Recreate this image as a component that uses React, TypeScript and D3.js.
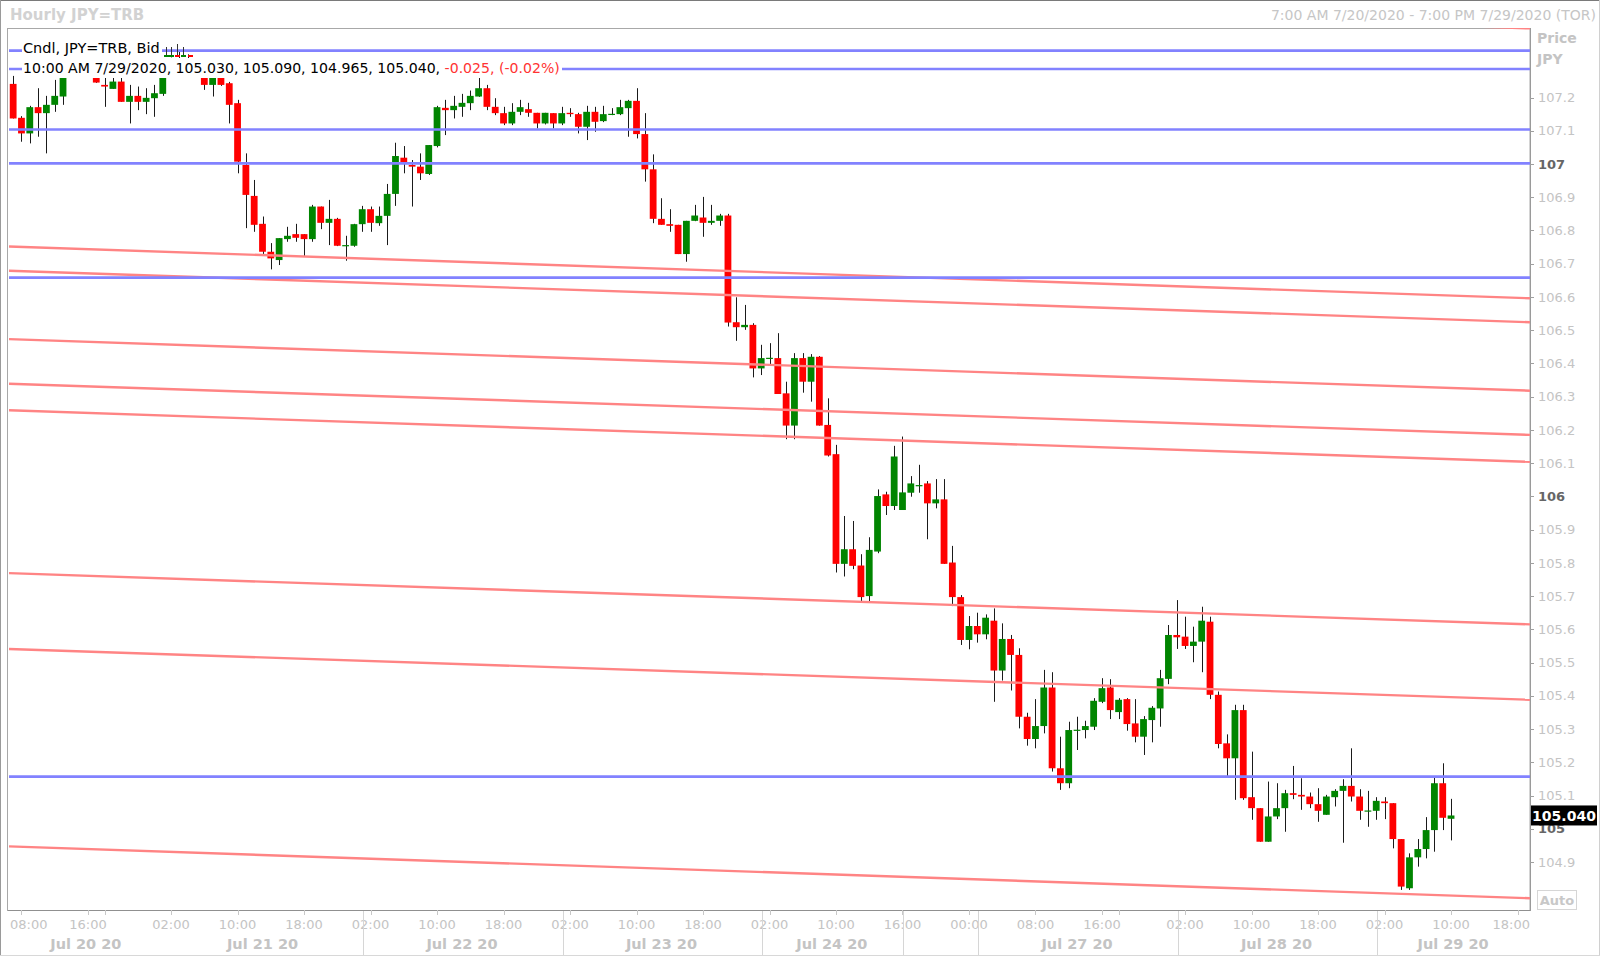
import React from "react";
import * as d3 from "d3";

// ---------- data (hourly candles, index 0 = 7:00 AM 7/20/2020, weekend gap removed) ----------
const OPEN = [
  107.241, 107.139, 107.092, 107.171, 107.153, 107.178, 107.203, 107.27, 107.3, 107.29,
  107.29, 107.238, 107.226, 107.248, 107.187, 107.205, 107.187, 107.198, 107.211, 107.27,
  107.3, 107.31, 107.29, 107.28, 107.238, 107.27, 107.243, 107.183, 106.997, 106.904,
  106.82, 106.736, 106.711, 106.774, 106.789, 106.789, 106.774, 106.872, 106.823, 106.835,
  106.755, 106.754, 106.819, 106.864, 106.822, 106.844, 106.91, 107.019, 106.997, 106.992,
  106.97, 107.054, 107.169, 107.162, 107.172, 107.183, 107.203, 107.228, 107.172, 107.153,
  107.122, 107.157, 107.165, 107.154, 107.122, 107.153, 107.122, 107.154, 107.15, 107.112,
  107.157, 107.129, 107.15, 107.15, 107.168, 107.19, 107.09, 106.984, 106.835, 106.819,
  106.817, 106.729, 106.829, 106.839, 106.823, 106.829, 106.845, 106.524, 106.509, 106.516,
  106.385, 106.416, 106.416, 106.31, 106.213, 106.416, 106.345, 106.42, 106.215, 106.127,
  105.797, 105.841, 105.792, 105.7, 105.834, 106.006, 105.971, 105.959, 106.011, 106.033,
  106.039, 105.979, 105.991, 105.801, 105.697, 105.568, 105.61, 105.585, 105.626, 105.476,
  105.571, 105.523, 105.337, 105.27, 105.309, 105.425, 105.182, 105.137, 105.297, 105.297,
  105.307, 105.382, 105.425, 105.351, 105.39, 105.317, 105.277, 105.327, 105.362, 105.451,
  105.583, 105.578, 105.55, 105.563, 105.623, 105.403, 105.257, 105.212, 105.357, 105.095,
  105.062, 104.961, 105.037, 105.062, 105.107, 105.102, 105.097, 105.074, 105.042, 105.095,
  105.114, 105.129, 105.097, 105.054, 105.054, 105.082, 105.077, 104.969, 104.821, 104.914,
  104.939, 104.996, 105.137, 105.03,
];
const HIGH = [
  107.265, 107.144, 107.175, 107.228, 107.205, 107.253, 107.289, 107.31, 107.33, 107.32,
  107.3, 107.265, 107.262, 107.259, 107.238, 107.233, 107.228, 107.238, 107.29, 107.32,
  107.34, 107.33, 107.31, 107.3, 107.29, 107.28, 107.247, 107.193, 107.032, 106.952,
  106.842, 106.762, 106.777, 106.811, 106.82, 106.789, 106.877, 106.872, 106.892, 106.838,
  106.784, 106.82, 106.874, 106.872, 106.872, 106.94, 107.064, 107.054, 107.012, 107.032,
  107.057, 107.175, 107.193, 107.205, 107.211, 107.221, 107.262, 107.238, 107.198, 107.172,
  107.183, 107.193, 107.184, 107.154, 107.154, 107.153, 107.172, 107.168, 107.154, 107.175,
  107.172, 107.175, 107.168, 107.193, 107.193, 107.228, 107.153, 107.029, 106.897, 106.864,
  106.817, 106.829, 106.877, 106.901, 106.877, 106.85, 106.85, 106.599, 106.576, 106.521,
  106.456, 106.461, 106.491, 106.345, 106.431, 106.431, 106.428, 106.422, 106.295, 106.155,
  105.941, 105.926, 105.826, 105.877, 106.021, 106.014, 106.152, 106.18, 106.061, 106.095,
  106.046, 106.052, 106.052, 105.851, 105.703, 105.64, 105.65, 105.645, 105.663, 105.618,
  105.583, 105.543, 105.349, 105.39, 105.478, 105.471, 105.277, 105.322, 105.337, 105.325,
  105.393, 105.453, 105.45, 105.393, 105.393, 105.39, 105.339, 105.369, 105.478, 105.613,
  105.688, 105.638, 105.608, 105.668, 105.638, 105.413, 105.284, 105.373, 105.373, 105.232,
  105.062, 105.142, 105.137, 105.117, 105.189, 105.152, 105.109, 105.122, 105.102, 105.119,
  105.149, 105.242, 105.119, 105.114, 105.095, 105.095, 105.077, 104.969, 104.926, 104.969,
  105.035, 105.154, 105.197, 105.09,
];
const LOW = [
  107.137, 107.067, 107.062, 107.082, 107.032, 107.157, 107.178, 107.26, 107.28, 107.27,
  107.244, 107.172, 107.226, 107.187, 107.122, 107.162, 107.15, 107.142, 107.205, 107.26,
  107.28, 107.27, 107.26, 107.223, 107.203, 107.235, 107.122, 106.972, 106.807, 106.796,
  106.726, 106.683, 106.696, 106.766, 106.766, 106.723, 106.766, 106.804, 106.756, 106.753,
  106.709, 106.751, 106.796, 106.796, 106.814, 106.756, 106.874, 106.972, 106.872, 106.952,
  106.967, 107.05, 107.087, 107.137, 107.142, 107.162, 107.202, 107.162, 107.147, 107.117,
  107.117, 107.147, 107.142, 107.107, 107.119, 107.107, 107.117, 107.142, 107.092, 107.072,
  107.097, 107.126, 107.147, 107.147, 107.082, 107.077, 106.947, 106.822, 106.817, 106.796,
  106.729, 106.706, 106.828, 106.781, 106.817, 106.814, 106.511, 106.468, 106.501, 106.358,
  106.365, 106.395, 106.308, 106.172, 106.172, 106.312, 106.285, 106.213, 106.12, 105.771,
  105.759, 105.781, 105.683, 105.683, 105.829, 105.944, 105.959, 105.959, 105.999, 106.011,
  105.871, 105.964, 105.797, 105.67, 105.553, 105.54, 105.56, 105.57, 105.382, 105.446,
  105.416, 105.302, 105.25, 105.242, 105.287, 105.172, 105.117, 105.122, 105.237, 105.272,
  105.297, 105.378, 105.33, 105.33, 105.295, 105.26, 105.222, 105.26, 105.307, 105.435,
  105.541, 105.541, 105.501, 105.471, 105.39, 105.242, 105.159, 105.087, 105.087, 105.027,
  104.961, 104.961, 105.029, 104.991, 105.089, 105.057, 105.062, 105.021, 105.042, 105.067,
  104.958, 105.082, 105.027, 105.006, 105.027, 105.029, 104.941, 104.816, 104.816, 104.886,
  104.911, 104.931, 104.996, 104.965,
];
const CLOSE = [
  107.137, 107.092, 107.171, 107.153, 107.178, 107.205, 107.271, 107.3, 107.29, 107.3,
  107.245, 107.233, 107.248, 107.187, 107.205, 107.187, 107.199, 107.213, 107.27, 107.3,
  107.31, 107.29, 107.28, 107.238, 107.27, 107.238, 107.178, 107.007, 106.907, 106.817,
  106.736, 106.716, 106.777, 106.784, 106.778, 106.774, 106.872, 106.823, 106.835, 106.754,
  106.756, 106.819, 106.864, 106.823, 106.844, 106.91, 107.024, 107.004, 106.992, 106.972,
  107.057, 107.171, 107.162, 107.175, 107.184, 107.205, 107.228, 107.172, 107.153, 107.122,
  107.157, 107.171, 107.154, 107.122, 107.154, 107.122, 107.153, 107.15, 107.112, 107.157,
  107.127, 107.15, 107.151, 107.171, 107.19, 107.09, 106.984, 106.835, 106.817, 106.814,
  106.729, 106.829, 106.845, 106.823, 106.829, 106.845, 106.523, 106.509, 106.516, 106.385,
  106.416, 106.417, 106.308, 106.213, 106.416, 106.345, 106.42, 106.213, 106.123, 105.797,
  105.841, 105.791, 105.697, 105.839, 106.001, 105.971, 106.12, 106.012, 106.039, 106.034,
  105.979, 105.991, 105.797, 105.697, 105.568, 105.61, 105.585, 105.635, 105.476, 105.571,
  105.523, 105.337, 105.27, 105.309, 105.425, 105.182, 105.137, 105.297, 105.298, 105.309,
  105.385, 105.423, 105.357, 105.388, 105.315, 105.277, 105.33, 105.364, 105.453, 105.583,
  105.576, 105.55, 105.563, 105.626, 105.403, 105.255, 105.212, 105.357, 105.092, 105.062,
  104.961, 105.037, 105.062, 105.107, 105.102, 105.097, 105.074, 105.054, 105.097, 105.114,
  105.129, 105.097, 105.054, 105.055, 105.084, 105.077, 104.969, 104.826, 104.914, 104.939,
  104.996, 105.137, 105.033, 105.04,
];

// x-axis ticks (candle index) and labels
const TICK_IDX = [1, 9, 19, 27, 35, 43, 51, 59, 67, 75, 83, 91, 99, 107, 115, 123, 131, 141, 149, 157, 165, 173, 181];
const TICK_LABELS = ["08:00", "16:00", "02:00", "10:00", "18:00", "02:00", "10:00", "18:00", "02:00", "10:00", "18:00", "02:00", "10:00", "16:00", "00:00", "08:00", "16:00", "02:00", "10:00", "18:00", "02:00", "10:00", "18:00"];
const MINOR_TICK_IDX = [11, 133];
const DAY_BOUNDS = [-0.5, 18, 42, 66, 90, 107, 116, 140, 164, 182.5];
const DAY_LABELS = ["Jul 20 20", "Jul 21 20", "Jul 22 20", "Jul 23 20", "Jul 24 20", "", "Jul 27 20", "Jul 28 20", "Jul 29 20"];
const SEPARATOR_IDX = [42, 66, 90, 107, 116, 140, 164];

// y-axis
const PRICE_TICKS = [107.2, 107.1, 107, 106.9, 106.8, 106.7, 106.6, 106.5, 106.4, 106.3, 106.2, 106.1, 106, 105.9, 105.8, 105.7, 105.6, 105.5, 105.4, 105.3, 105.2, 105.1, 105, 104.9];
const MAJOR_PRICES = [107, 106, 105];

// drawn levels
const BLUE_LEVELS = [107.341, 107.286, 107.104, 107.002, 106.658, 105.157];
const RED_START = [107.564, 106.752, 106.679, 106.473, 106.339, 106.259, 105.769, 105.541, 104.947];
const RED_END = [107.408, 106.596, 106.524, 106.318, 106.185, 106.104, 105.615, 105.388, 104.791];

const LAST_PRICE = 105.04;

// ---------- layout ----------
const W = 1600;
const H = 958;
const PL = 9;
const PR = 1530;
const PT = 28;
const PB = 910;
const FONT = "'DejaVu Sans', Verdana, sans-serif";

export default function App() {
  const x = d3.scaleLinear().domain([-0.5, 182.5]).range([PL, PR]);
  const y = d3.scaleLinear().domain([104.9, 107]).range([862, 164]);
  const bw = 6.8;
  const up = "#008500";
  const dn = "#ff0000";

  const candles = OPEN.map((o, i) => {
    const c = CLOSE[i];
    const h = HIGH[i];
    const l = LOW[i];
    const xc = x(i);
    const wx = Math.round(xc) + 0.5;
    const top = y(Math.max(o, c));
    const bot = y(Math.min(o, c));
    const col = c > o ? up : c < o ? dn : "#000";
    return (
      <g key={i}>
        <line x1={wx} x2={wx} y1={y(h)} y2={y(l)} stroke="#1a1a1a" strokeWidth={1} />
        <rect x={xc - bw / 2} y={top} width={bw} height={Math.max(1.2, bot - top)} fill={col} />
      </g>
    );
  });

  const formatTick = (p: number) => (MAJOR_PRICES.includes(p) ? d3.format("d")(p) : d3.format(".1f")(p));

  return (
    <svg
      width={W}
      height={H}
      style={{ position: "fixed", left: 0, top: 0, background: "#fff" }}
      fontFamily={FONT}
    >
      <defs>
        <clipPath id="plot">
          <rect x={PL} y={PT} width={PR - PL} height={PB - PT} />
        </clipPath>
      </defs>
      <rect x={0} y={0} width={W} height={H} fill="#fff" />
      {/* outer frame */}
      <line x1={0} x2={W} y1={0.5} y2={0.5} stroke="#7a7a7a" />
      <line x1={0.5} x2={0.5} y1={0} y2={955} stroke="#9a9a9a" />
      <line x1={W - 0.5} x2={W - 0.5} y1={0} y2={955} stroke="#d0d0d0" />
      <line x1={0} x2={W} y1={955.5} y2={955.5} stroke="#d8d8d8" />

      {/* header */}
      <text x={10} y={20} fontSize={15} fontWeight="bold" fill="#d2d2d2">Hourly JPY=TRB</text>
      <text x={1596} y={20} fontSize={14} fill="#c6c6c6" textAnchor="end">
        7:00 AM 7/20/2020 - 7:00 PM 7/29/2020 (TOR)
      </text>

      {/* plot frame */}
      <rect x={PL - 1.5} y={PT + 0.5} width={PR - PL + 1.5} height={PB - PT} fill="#fff" stroke="#a8a8a8" />

      <g clipPath="url(#plot)">{candles}</g>

      {/* drawn lines */}
      <g clipPath="url(#plot)">
        {RED_START.map((p, k) => (
          <line key={"r" + k} x1={x(-0.5)} x2={x(182.5)} y1={y(p)} y2={y(RED_END[k])} stroke="#ff8484" strokeWidth={2.4} />
        ))}
        {BLUE_LEVELS.map((p, k) => (
          <line key={"b" + k} x1={PL} x2={PR} y1={y(p)} y2={y(p)} stroke="#8282ff" strokeWidth={2.6} />
        ))}
      </g>

      {/* legend */}
      <rect x={22} y={37} width={140} height={21} fill="#fff" />
      <rect x={22} y={58} width={540} height={20} fill="#fff" />
      <text x={23} y={53} fontSize={14.5} fill="#000">Cndl, JPY=TRB, Bid</text>
      <g>
        {[[164, up, 47], [169, up, 47], [175, dn, 44], [181, up, 47], [188, dn, 56]].map(([ix, col, wt], k) => (
          <g key={"ic" + k}>
            <line x1={(ix as number) + 2.5} x2={(ix as number) + 2.5} y1={wt as number} y2={57} stroke="#333" strokeWidth={1} />
            <rect x={ix as number} y={55} width={5} height={2} fill={col as string} />
          </g>
        ))}
      </g>
      <text x={23} y={73} fontSize={14.1} fill="#000">
        10:00 AM 7/29/2020, 105.030, 105.090, 104.965, 105.040,{" "}
        <tspan fill="#ff3333">-0.025, (-0.02%)</tspan>
      </text>

      {/* right axis */}
      <line x1={PR + 0.5} x2={PR + 0.5} y1={PT} y2={PB + 1} stroke="#9a9a9a" />
      {PRICE_TICKS.map((p) => {
        const major = MAJOR_PRICES.includes(p);
        return (
          <g key={"pt" + p}>
            <line x1={PR} x2={PR + 4} y1={Math.round(y(p)) + 0.5} y2={Math.round(y(p)) + 0.5} stroke="#a0a0a0" />
            <text
              x={1538}
              y={y(p)}
              dy="0.36em"
              fontSize={13}
              fontWeight={major ? "bold" : "normal"}
              fill={major ? "#666" : "#c4c4c4"}
            >
              {formatTick(p)}
            </text>
          </g>
        );
      })}
      <text x={1537} y={43} fontSize={14} fontWeight="bold" fill="#c4c4c4">Price</text>
      <text x={1537} y={64} fontSize={14} fontWeight="bold" fill="#c4c4c4">JPY</text>
      <rect x={1531} y={y(LAST_PRICE) - 10} width={66} height={20} fill="#000" />
      <text x={1564} y={y(LAST_PRICE)} dy="0.36em" fontSize={14} fontWeight="bold" fill="#fff" textAnchor="middle">
        {d3.format(".3f")(LAST_PRICE)}
      </text>
      <rect x={1537.5} y={890.5} width={39} height={19} fill="none" stroke="#d6d6d6" />
      <text x={1557} y={905} fontSize={13} fontWeight="bold" fill="#c8c8c8" textAnchor="middle">Auto</text>

      {/* bottom axis */}
      <line x1={PL - 1} x2={PR} y1={PB + 0.5} y2={PB + 0.5} stroke="#909090" />
      {[...TICK_IDX, ...MINOR_TICK_IDX].map((t) => (
        <line key={"tk" + t} x1={Math.round(x(t)) + 0.5} x2={Math.round(x(t)) + 0.5} y1={PB} y2={PB + 5} stroke="#c8c8c8" />
      ))}
      {TICK_IDX.map((t, k) => {
        const first = k === 0;
        const last = k === TICK_IDX.length - 1;
        return (
          <text
            key={"tl" + k}
            x={first ? PL + 1 : last ? PR : x(t)}
            y={929}
            fontSize={13}
            fill="#c4c4c4"
            textAnchor={first ? "start" : last ? "end" : "middle"}
          >
            {TICK_LABELS[k]}
          </text>
        );
      })}
      {SEPARATOR_IDX.map((s) => (
        <line key={"sep" + s} x1={Math.round(x(s)) + 1.5} x2={Math.round(x(s)) + 1.5} y1={PB + 1} y2={955} stroke="#d6d6d6" />
      ))}
      {DAY_LABELS.map((lab, k) =>
        lab ? (
          <text
            key={"dl" + k}
            x={(x(DAY_BOUNDS[k]) + x(DAY_BOUNDS[k + 1])) / 2}
            y={949}
            fontSize={14.5}
            fontWeight="bold"
            fill="#c4c4c4"
            textAnchor="middle"
          >
            {lab}
          </text>
        ) : null
      )}
    </svg>
  );
}
